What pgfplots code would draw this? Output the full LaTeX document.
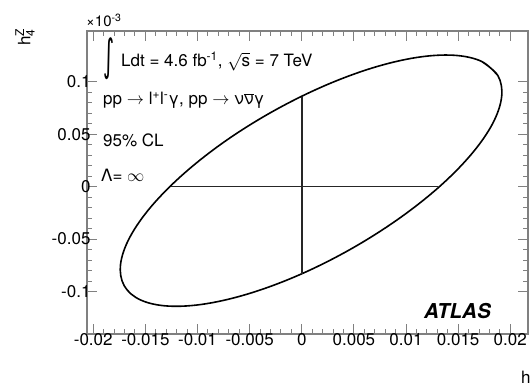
\documentclass[border=0pt]{standalone}
\usepackage{graphicx}
\usepackage{pgfplots}
\pgfplotsset{compat=1.18}
\usepackage{fontspec}
\setmainfont{TeX Gyre Heros}
\newfontfamily\djv{DejaVu Sans}
\newcommand{\tf}{\fontsize{17bp}{20bp}\selectfont}
\newcommand{\sm}{\fontsize{12bp}{14bp}\selectfont}
\begin{document}
\begin{tikzpicture}
\begin{axis}[
  at={(0,0)}, anchor=south west,
  scale only axis, width=441bp, height=303bp,
  xmin=-0.0206, xmax=0.0217, ymin=-0.1405, ymax=0.1484,
  xtick={-0.02,-0.015,-0.01,-0.005,0,0.005,0.01,0.015,0.02},
  xticklabels={-0.02,-0.015,-0.01,-0.005,0,0.005,0.01,0.015,0.02},
  ytick={-0.1,-0.05,0,0.05,0.1},
  yticklabels={-0.1,-0.05,0,0.05,0.1},
  minor x tick num=4, minor y tick num=4,
  tick align=inside,
  major tick length=10bp, minor tick length=5bp,
  axis line style={black!50, line width=1.2bp},
  tick style={black!50, line width=1bp},
  tick label style={font=\tf},
  xticklabel style={yshift=4bp},
  yticklabel style={xshift=7bp},
  /pgf/number format/assume math mode=true,
  scaled ticks=false,
  clip=false,
]
\addplot[black, line width=1.6bp, smooth, tension=0.6] coordinates {
(0.01881,0.1059)
(0.01723,0.1195)
(0.01454,0.1253)
(0.01092,0.1230)
(0.00662,0.1127)
(0.00193,0.0951)
(-0.00284,0.0714)
(-0.00735,0.0433)
(-0.01130,0.0125)
(-0.01442,-0.0187)
(-0.01649,-0.0482)
(-0.01738,-0.0740)
(-0.01703,-0.0945)
(-0.01545,-0.1081)
(-0.01276,-0.1139)
(-0.00914,-0.1116)
(-0.00484,-0.1013)
(-0.00014,-0.0837)
(0.00462,-0.0600)
(0.00913,-0.0318)
(0.01308,-0.0011)
(0.01620,0.0301)
(0.01828,0.0596)
(0.01917,0.0855)
(0.01881,0.1059)
(0.01723,0.1195)
};
\addplot[black!85, line width=1.5bp] coordinates {(-0.0125,0) (0.0131,0)};
\addplot[black!85, line width=1.5bp] coordinates {(0,-0.0836) (0,0.0852)};
\end{axis}
% texts (coordinates in bp relative to lower-left axis corner)
\node[anchor=base west, inner sep=0pt, font=\fontsize{15bp}{18bp}\selectfont] at (-1bp,307bp) {×10\textsuperscript{-3}};
\node[anchor=east, rotate=90, inner sep=0pt, font=\tf] at (-62bp,306bp) {h$_{\mbox{\sm 4}}^{\mbox{\sm Z}}$};
\node[anchor=base west, inner sep=0pt, font=\tf] at (434bp,-49bp) {h$_{\mbox{\sm 4}}^{\mbox{\sm γ}}$};
\node[anchor=base west, inner sep=0pt, font=\tf] at (16bp,267bp) {\raisebox{-13bp}{\resizebox{11bp}{42bp}{\raisebox{\depth}{\djv ∫}}}\hspace{7bp}Ldt = 4.6 fb$^{\mbox{\sm -1}}$, $\sqrt{\mbox{s}}$ = 7 TeV};
\node[anchor=base west, inner sep=0pt, font=\tf] at (16bp,229bp) {pp $\to$ l$^{\mbox{\sm +}}$l$^{\mbox{\sm -}}$γ, pp $\to$ ν$\overline{\mbox{ν}}$γ};
\node[anchor=base west, inner sep=0pt, font=\tf] at (16bp,187bp) {95\% CL};
\node[anchor=base west, inner sep=0pt, font=\tf] at (14bp,152bp) {Λ= $\infty$};
\node[anchor=base west, inner sep=0pt, font=\fontsize{20.5bp}{24bp}\selectfont\bfseries\itshape] at (337bp,16bp) {ATLAS};
\pgfresetboundingbox
\useasboundingbox (-87bp,-54bp) rectangle (443bp,334bp);
\end{tikzpicture}
\end{document}
